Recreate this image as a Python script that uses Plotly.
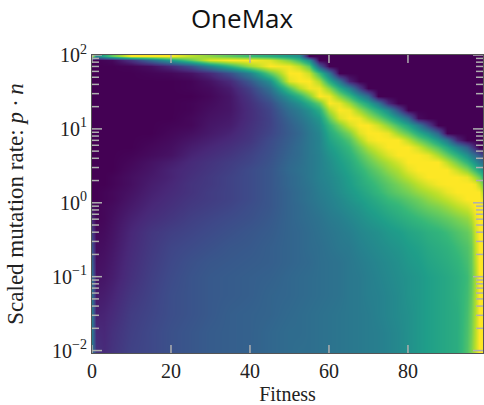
import plotly.graph_objects as go

log_rate = [1.98,1.93,1.85,1.75,1.65,1.55,1.45,1.35,1.25,1.15,1.05,.95,.85,.75,.65,.55,.45,.35,.25,.15,.05,-.05,-.2,-.4,-.6,-.8,-1,-1.25,-1.5,-1.75,-2.03]
mutation_rate = [10**v for v in log_rate]

# low-fitness part: one row per mutation rate
fitness_low = [0,1,3,5,10,15,20,25,30,35,40,45]
density_low = [
[.98,.45,.6,.75,1,1,1,.9,.82,.75,.68,.62],
[0,0,.01,.02,.15,.35,.55,.75,.95,1,1,.95],
[0,0,0,0,.01,.04,.12,.25,.45,.65,.85,1],
[0,0,0,0,0,.01,.02,.05,.12,.25,.45,.75],
[0,0,0,0,0,0,0,.01,.05,.12,.28,.5],
[0,0,0,0,0,0,0,.01,.03,.08,.2,.38],
[0,0,0,0,0,0,0,0,.02,.06,.16,.3],
[0,0,0,0,0,0,0,.01,.03,.06,.14,.24],
[0,0,0,0,0,0,0,.01,.04,.06,.13,.21],
[0,0,0,0,0,0,0,.02,.05,.07,.13,.2],
[0,0,0,0,0,0,.01,.02,.06,.08,.14,.2],
[0,0,0,0,0,0,.02,.04,.07,.1,.15,.21],
[0,0,0,0,0,.01,.03,.06,.09,.12,.16,.23],
[0,0,0,0,0,.02,.04,.08,.11,.14,.18,.24],
[0,0,0,0,.01,.03,.05,.1,.13,.16,.2,.25],
[0,0,0,0,.02,.05,.08,.12,.15,.18,.21,.26],
[0,0,0,0,.03,.06,.1,.13,.16,.19,.23,.27],
[0,0,0,.01,.04,.07,.1,.14,.17,.2,.23,.27],
[0,0,0,.01,.04,.08,.11,.15,.17,.2,.23,.27],
[0,0,.01,.02,.05,.09,.12,.15,.18,.2,.23,.27],
[0,0,.01,.02,.06,.1,.13,.16,.18,.2,.23,.27],
[.05,.01,.02,.03,.07,.11,.14,.17,.19,.21,.24,.27],
[.1,.01,.02,.04,.09,.13,.16,.19,.21,.23,.25,.28],
[.18,.02,.03,.05,.11,.16,.19,.21,.23,.25,.27,.29],
[.25,.03,.04,.06,.12,.17,.21,.23,.25,.27,.28,.3],
[.3,.04,.05,.07,.13,.18,.22,.25,.27,.28,.29,.3],
[.35,.05,.06,.08,.14,.19,.23,.26,.28,.29,.3,.31],
[.38,.07,.08,.1,.16,.2,.24,.26,.28,.29,.3,.32],
[.4,.09,.1,.12,.18,.21,.24,.26,.28,.3,.31,.32],
[.4,.12,.11,.14,.19,.22,.25,.27,.29,.3,.31,.33],
[.4,.15,.12,.15,.2,.22,.25,.27,.29,.3,.31,.33],
]

# high-fitness part: one list per fitness value, top of the chart first
density_high = {
50: [.55,.8,.98,1,.95,.72,.52,.42,.36,.32,.3,.29,.3,.31,.32,.33,.34,.33,.33,.32,.32,.32, .32,.32,.32,.32,.33,.33,.34,.35,.35],
52.5: [.5,.68,.9,1,1,.88,.64,.5,.42,.38,.35,.33,.34,.35,.35,.36,.37,.36,.36,.35,.35,.34, .34,.33,.33,.33,.34,.34,.35,.35,.36],
55: [0,.5,.75,.92,1,.98,.8,.62,.5,.45,.42,.4,.4,.4,.4,.4,.4,.4,.39,.38,.38,.37, .36,.35,.35,.34,.35,.35,.36,.36,.36],
57.5: [0,0,.3,.68,.88,.98,1,.76,.62,.53,.49,.46,.45,.45,.44,.44,.44,.44,.43,.42,.41,.4, .38,.37,.36,.36,.36,.36,.37,.37,.37],
60: [0,0,0,.4,.62,.82,.98,1,.88,.76,.66,.6,.57,.54,.51,.49,.48,.47,.46,.45,.44,.43, .41,.39,.38,.37,.37,.37,.38,.38,.38],
62.5: [0,0,0,0,.4,.62,.82,.97,1,.94,.8,.7,.64,.6,.57,.55,.53,.51,.5,.49,.47,.46, .43,.41,.4,.38,.38,.38,.39,.39,.39],
65: [0,0,0,0,.1,.45,.68,.85,.98,1,.93,.8,.72,.67,.63,.6,.58,.56,.55,.53,.51,.49, .46,.43,.41,.4,.4,.4,.4,.4,.4],
67.5: [0,0,0,0,0,.2,.5,.7,.85,.98,1,.95,.86,.78,.72,.68,.64,.61,.6,.57,.55,.52, .49,.46,.44,.42,.41,.41,.41,.41,.41],
70: [0,0,0,0,0,0,.35,.58,.74,.88,1,1,.97,.88,.8,.75,.7,.67,.64,.61,.58,.56, .52,.48,.46,.44,.43,.43,.42,.42,.42],
72.5: [0,0,0,0,0,0,0,.4,.62,.78,.93,1,1,.95,.88,.82,.76,.72,.69,.66,.62,.59, .55,.5,.48,.46,.45,.44,.44,.43,.43],
75: [0,0,0,0,0,0,0,.12,.48,.66,.82,.97,1,1,.95,.88,.83,.78,.74,.71,.67,.63, .58,.53,.5,.48,.47,.46,.46,.45,.45],
77.5: [0,0,0,0,0,0,0,0,.25,.52,.7,.85,1,1,1,.94,.88,.84,.79,.75,.7,.66, .61,.55,.52,.5,.49,.48,.48,.47,.47],
80: [0,0,0,0,0,0,0,0,0,.35,.58,.75,.9,1,1,1,.96,.9,.84,.79,.74,.7, .64,.58,.55,.53,.51,.51,.5,.5,.5],
82.5: [0,0,0,0,0,0,0,0,0,.03,.42,.62,.78,.93,1,1,1,.96,.9,.84,.78,.74, .67,.6,.57,.55,.53,.53,.53,.53,.53],
85: [0,0,0,0,0,0,0,0,0,0,.2,.5,.68,.82,.97,1,1,1,.95,.88,.83,.78, .7,.63,.6,.58,.56,.56,.56,.56,.56],
87.5: [0,0,0,0,0,0,0,0,0,0,0,.32,.55,.72,.87,1,1,1,.99,.92,.87,.81, .73,.65,.62,.6,.58,.58,.58,.58,.58],
90: [0,0,0,0,0,0,0,0,0,0,0,0,.4,.6,.76,.9,1,1,1,.97,.91,.85, .76,.68,.64,.62,.6,.6,.6,.6,.6],
92.5: [0,0,0,0,0,0,0,0,0,0,0,0,.12,.45,.64,.78,.92,1,1,1,.96,.9, .8,.72,.68,.65,.63,.63,.62,.62,.62],
95: [0,0,0,0,0,0,0,0,0,0,0,0,0,.3,.5,.65,.82,.97,1,1,1,.94, .84,.76,.72,.7,.68,.69,.7,.71,.72],
96: [0,0,0,0,0,0,0,0,0,0,0,0,0,.2,.42,.58,.75,.92,1,1,1,.97, .88,.8,.76,.75,.74,.75,.77,.78,.8],
97: [0,0,0,0,0,0,0,0,0,0,0,0,0,.1,.35,.5,.68,.85,.98,1,1,1, .96,.92,.9,.88,.86,.87,.88,.89,.9],
98: [0,0,0,0,0,0,0,0,0,0,0,0,0,0,.28,.42,.6,.78,.9,1,1,1, 1,1,1,1,1,1,1,1,1],
99: [0,0,0,0,0,0,0,0,0,0,0,0,0,0,.2,.35,.5,.65,.78,.88,.96,1, 1,1,1,1,1,1,1,1,1],
}

fitness = fitness_low + list(density_high)
density = [row + [col[i] for col in density_high.values()] for i, row in enumerate(density_low)]

x_ticks = [0,20,40,60,80]
y_ticks = [0.01,0.1,1,10,100]
y_labels = ["10<sup>−2</sup>","10<sup>−1</sup>","10<sup>0</sup>","10<sup>1</sup>","10<sup>2</sup>"]
minor_y_ticks = [m*d for d in (0.01,0.1,1,10) for m in (2,3,4,5,6,7,8,9)]

SERIF = "Liberation Serif"
TICK = "rgb(175,175,175)"
FRAME = "#555555"
PLOT_W, PLOT_H = 391, 299.0

def tick_line(x0, y0, x1, y1, xref, yref):
    return dict(type="line", x0=x0, y0=y0, x1=x1, y1=y1, xref=xref, yref=yref,
                line=dict(color=TICK, width=1.5), layer="above")

tick_shapes = []
for v in x_ticks:
    tick_shapes.append(tick_line(v, 0, v, 8/PLOT_H, "x", "paper"))
    tick_shapes.append(tick_line(v, 1, v, 1-8/PLOT_H, "x", "paper"))
for v, length in [(t, 10) for t in y_ticks] + [(t, 7) for t in minor_y_ticks]:
    tick_shapes.append(tick_line(0, v, length/PLOT_W, v, "paper", "y"))
    tick_shapes.append(tick_line(1, v, 1-length/PLOT_W, v, "paper", "y"))

fig = go.Figure(go.Heatmap(
    x=fitness, y=mutation_rate, z=density,
    colorscale="Viridis", zmin=0, zmax=1, zsmooth="best", showscale=False,
    hoverinfo="skip",
))
fig.update_layout(
    width=484, height=405,
    margin=dict(l=92, r=1, t=54.5, b=51.5),
    paper_bgcolor="white", plot_bgcolor="white",
    font=dict(family=SERIF, size=20, color="#222222"),
    shapes=tick_shapes,
    title=dict(text="OneMax", x=0.5, xanchor="center", y=0.953, yanchor="middle",
               font=dict(family="Open Sans", size=26, color="#111111")),
)
fig.update_xaxes(
    range=[0, 99], tickvals=x_ticks, ticks="",
    mirror=True, showline=True, linecolor=FRAME, linewidth=1, showgrid=False, zeroline=False,
    tickfont=dict(family=SERIF, size=20),
    title=dict(text="Fitness", font=dict(family=SERIF, size=20), standoff=8),
)
fig.update_yaxes(
    type="log", range=[-2.033, 2.0], tickvals=y_ticks, ticktext=y_labels, ticks="",
    mirror=True, showline=True, linecolor=FRAME, linewidth=1, showgrid=False, zeroline=False,
    tickfont=dict(family=SERIF, size=20),
    title=dict(text="Scaled mutation rate: <i>p · n</i>", font=dict(family=SERIF, size=23), standoff=22),
)
fig.write_html("out.html", post_script="document.body.style.margin='0';", config={"displayModeBar": False})
